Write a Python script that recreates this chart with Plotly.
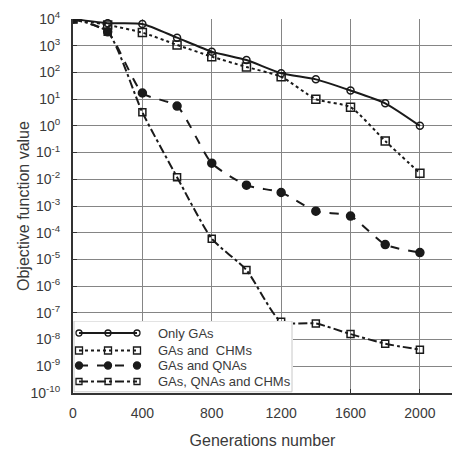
import plotly.graph_objects as go

# Generation counts at which the objective was recorded
generations = [0, 200, 400, 600, 800, 1000, 1200, 1400, 1600, 1800, 2000]

# Best objective function value per method
only_gas = [1e4, 7000, 6500, 2000, 600, 290, 93, 55, 21, 7, 1.0]
gas_chms = [1e4, 6000, 3100, 1070, 390, 160, 69, 10, 5, 0.27, 0.017]
gas_qnas = [1e4, 3300, 17, 5.5, 0.04, 0.006, 0.0032, 6.4e-4, 4.2e-4, 3.6e-5, 1.8e-5]
gas_qnas_chms = [1e4, 3300, 3.2, 0.012, 6e-5, 4e-6, 4.6e-8, 4e-8, 1.6e-8, 7e-9, 4.2e-9]

series_names = ["Only GAs", "GAs and  CHMs", "GAs and QNAs", "GAs, QNAs and CHMs"]

# Decade ticks on the log axis
y_exponents = list(range(-10, 5))
y_tickvals = [10.0 ** e for e in y_exponents]
y_ticktext = [f"10<sup>{e}</sup>" for e in y_exponents]
x_tickvals = [0, 400, 800, 1200, 1600, 2000]

INK = "#1a1a1a"
TXT = "#3a3a3a"
FONT = "Liberation Sans, Arial, sans-serif"

styles = [
    dict(dash="solid", symbol="circle-open", size=7),
    dict(dash="dot", symbol="square-open", size=8),
    dict(dash="dash", symbol="circle", size=8),
    dict(dash="dashdot", symbol="square-open", size=7),
]

fig = go.Figure()
for name, values, st in zip(series_names,
                            [only_gas, gas_chms, gas_qnas, gas_qnas_chms],
                            styles):
    fig.add_trace(go.Scatter(
        x=generations, y=values, name=name, mode="lines+markers",
        line=dict(color=INK, width=2, dash=st["dash"], shape="spline", smoothing=0.6),
        marker=dict(symbol=st["symbol"], size=st["size"], color=INK,
                    line=dict(color=INK, width=1.5)),
        showlegend=False,
    ))

# Key panel: its own small overlay axes (units are pixels inside the box),
# holding a white box, a three-marker sample for each series and its label.
KEY_W, KEY_H = 220, 72
key_rows = [60, 42.5, 27.5, 11.5]
key_sample_x = [6, 35, 64]
key_text_x = 83

fig.add_trace(go.Scatter(
    x=[1, KEY_W - 1, KEY_W - 1, 1, 1], y=[1.2, 1.2, KEY_H, KEY_H, 1.2],
    xaxis="x2", yaxis="y2", mode="lines", fill="toself",
    fillcolor="white", line=dict(color="#c8c8c8", width=1),
    hoverinfo="skip", showlegend=False,
))
annotations = []
for name, st, row in zip(series_names, styles, key_rows):
    fig.add_trace(go.Scatter(
        x=key_sample_x, y=[row] * len(key_sample_x),
        xaxis="x2", yaxis="y2", mode="lines+markers",
        line=dict(color=INK, width=2, dash=st["dash"]),
        marker=dict(symbol=st["symbol"], size=st["size"] - 1, color=INK,
                    line=dict(color=INK, width=1.3)),
        hoverinfo="skip", showlegend=False,
    ))
    annotations.append(dict(
        text=name, xref="x2", yref="y2", x=key_text_x, y=row,
        xanchor="left", yanchor="middle", showarrow=False,
        font=dict(size=13, color=TXT),
    ))

annotations.append(dict(
    text="Objective function value", textangle=-90,
    xref="paper", yref="paper", x=-0.132, y=0.5,
    xanchor="center", yanchor="middle", showarrow=False,
    font=dict(size=16, color=TXT),
))

fig.update_layout(
    width=452, height=452,
    margin=dict(l=73, r=0, t=19, b=59),
    paper_bgcolor="white", plot_bgcolor="white",
    font=dict(family=FONT, size=14, color=TXT),
    showlegend=False,
    annotations=annotations,
    xaxis=dict(
        range=[0, 2185], tickvals=x_tickvals,
        showgrid=True, gridcolor="#858585", gridwidth=1.2,
        showline=True, linecolor="#333333", linewidth=2,
        ticks="inside", ticklen=4, tickcolor="#333333",
        tickfont=dict(size=14, color=TXT), zeroline=False,
        ticklabelstandoff=6,
        title=dict(text="Generations number", font=dict(size=16, color=TXT), standoff=15),
    ),
    yaxis=dict(
        type="log", range=[-10, 4], tickvals=y_tickvals, ticktext=y_ticktext,
        showgrid=True, gridcolor="#858585", gridwidth=1.2,
        showline=True, linecolor="#333333", linewidth=2,
        ticks="inside", ticklen=4, tickcolor="#333333",
        tickfont=dict(size=14, color=TXT), zeroline=False,
        ticklabelstandoff=8,
    ),
    xaxis2=dict(domain=[0.0, KEY_W / 379], range=[0, KEY_W], visible=False,
                anchor="y2", fixedrange=True),
    yaxis2=dict(domain=[0.0, KEY_H / 374], range=[0, KEY_H], visible=False,
                anchor="x2", fixedrange=True),
)

fig.write_html("out.html")
